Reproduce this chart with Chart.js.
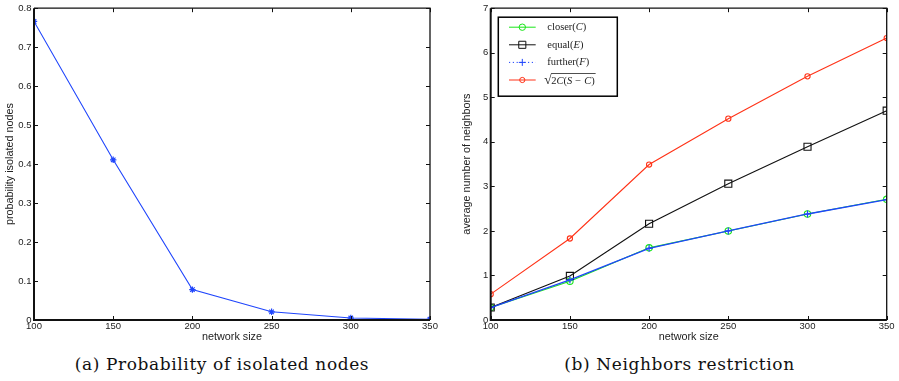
<!DOCTYPE html>
<html>
<head>
<meta charset="utf-8">
<script src="https://cdn.jsdelivr.net/npm/chart.js@4"></script>
<style>
  html, body { margin:0; padding:0; background:#fff; width:899px; height:381px; overflow:hidden; }
  canvas { position:absolute; top:0; }
  #c1 { left:0; }
  #c2 { left:450px; }
  .cap { position:absolute; top:354px; font-family:'DejaVu Serif', 'Liberation Serif', serif; font-size:17px; letter-spacing:0.6px; color:#111; text-align:center; white-space:nowrap; }
</style>
</head>
<body>
<canvas id="c1" width="450" height="350" style="width:450px;height:350px"></canvas>
<canvas id="c2" width="449" height="350" style="width:449px;height:350px"></canvas>
<div class="cap" style="left:0;width:444px;">(a) Probability of isolated nodes</div>
<div class="cap" style="left:450px;width:459px;">(b) Neighbors restriction</div>
<script>
// ---- data ----
const networkSizes = [100, 150, 200, 250, 300, 350];
const isolatedProb = [0.766, 0.411, 0.078, 0.021, 0.005, 0.002];
const closerC  = [0.28, 0.87, 1.62, 2.00, 2.38, 2.71];
const equalE   = [0.28, 0.99, 2.16, 3.06, 3.89, 4.70];
const furtherF = [0.28, 0.90, 1.61, 2.00, 2.38, 2.70];
const sqrtBound = [0.58, 1.83, 3.49, 4.52, 5.47, 6.33];
const seriesLabels = ['closer(C)', 'equal(E)', 'further(F)', '√2C(S − C)'];
const xTitle = 'network size';
const yTitleA = 'probability isolated nodes';
const yTitleB = 'average number of neighbors';

const toXY = (ys) => ys.map((y, i) => ({x: networkSizes[i], y}));

// MATLAB-like frame with inward ticks
const framePlugin = {
  id: 'frame',
  afterDraw(chart) {
    const ctx = chart.ctx, ca = chart.chartArea;
    const xs = chart.scales.x, ys = chart.scales.y;
    ctx.save();
    ctx.strokeStyle = '#111';
    ctx.lineWidth = 1;
    const tl = 4;
    xs.ticks.forEach(t => {
      const px = Math.round(xs.getPixelForValue(t.value)) + 0.5;
      ctx.beginPath();
      ctx.moveTo(px, ca.bottom); ctx.lineTo(px, ca.bottom - tl);
      ctx.moveTo(px, ca.top); ctx.lineTo(px, ca.top + tl);
      ctx.stroke();
    });
    ys.ticks.forEach(t => {
      const py = Math.round(ys.getPixelForValue(t.value)) + 0.5;
      ctx.beginPath();
      ctx.moveTo(ca.left, py); ctx.lineTo(ca.left + tl, py);
      ctx.moveTo(ca.right, py); ctx.lineTo(ca.right - tl, py);
      ctx.stroke();
    });
    ctx.lineWidth = 1.3;
    ctx.beginPath();
    ctx.moveTo(ca.left, ca.top); ctx.lineTo(ca.right, ca.top); ctx.lineTo(ca.right, ca.bottom);
    ctx.stroke();
    ctx.lineWidth = 2;
    ctx.beginPath();
    ctx.moveTo(ca.left, ca.top); ctx.lineTo(ca.left, ca.bottom); ctx.lineTo(ca.right, ca.bottom);
    ctx.stroke();
    ctx.restore();
  }
};

// MATLAB-like legend inside the axes
const legendPlugin = {
  id: 'mlegend',
  afterDraw(chart) {
    if (!chart.options.plugins.mlegend || !chart.options.plugins.mlegend.show) return;
    const ctx = chart.ctx, ca = chart.chartArea;
    const x0 = ca.left + 7.6, y0 = ca.top + 9, w = 119, h = 79;
    ctx.save();
    ctx.fillStyle = '#fff';
    ctx.fillRect(x0, y0, w, h);
    ctx.strokeStyle = '#000';
    ctx.lineWidth = 1.5;
    ctx.strokeRect(x0, y0, w, h);
    chart.data.datasets.forEach((ds, i) => {
      const cy = y0 + 10 + i * 17.6;
      ctx.strokeStyle = ds.borderColor;
      ctx.lineWidth = 1;
      ctx.setLineDash(ds.legendDash || []);
      ctx.beginPath();
      ctx.moveTo(x0 + 10.7, cy); ctx.lineTo(x0 + 37.4, cy);
      ctx.stroke();
      ctx.setLineDash([]);
      ctx.fillStyle = 'rgba(0,0,0,0)';
      ctx.strokeStyle = ds.pointBorderColor || ds.borderColor;
      ctx.lineWidth = 1;
      Chart.helpers.drawPoint(ctx, {pointStyle: ds.pointStyle, rotation: 0, radius: ds.pointRadius, borderWidth: 1}, x0 + 24, cy);
      // text
      let label = ds.label;
      let tx = x0 + 49;
      ctx.fillStyle = '#222';
      ctx.textBaseline = 'middle';
      const fs = 10.5;
      if (label.startsWith('√')) {
        tx = x0 + 46;
        ctx.font = `${fs + 3}px "Liberation Serif"`;
        ctx.fillText('√', tx, cy + 0.5);
        tx += ctx.measureText('√').width - 0.5;
        label = label.slice(1);
        const startX = tx;
        tx = drawMixed(ctx, label, tx, cy + 1, fs);
        ctx.strokeStyle = '#222';
        ctx.lineWidth = 0.8;
        ctx.beginPath();
        ctx.moveTo(startX, cy - 6.5); ctx.lineTo(tx + 1, cy - 6.5);
        ctx.stroke();
      } else {
        drawMixed(ctx, label, tx, cy, fs);
      }
    });
    ctx.restore();
  }
};
function drawMixed(ctx, text, x, y, fs) {
  for (const ch of text) {
    if (ch === ' ') continue;
    const it = /[A-Z]/.test(ch);
    ctx.font = `${it ? 'italic ' : ''}${fs}px "Liberation Serif"`;
    let c = ch;
    if (ch === '−') { ctx.font = `${fs}px "Liberation Serif"`; x += 3; ctx.fillText(c, x, y); x += ctx.measureText(c).width + 3; continue; }
    ctx.fillText(c, x, y);
    x += ctx.measureText(c).width;
  }
  return x;
}

const tickFont = {family: 'Liberation Sans', size: 9.5};
const titleFont = {family: 'Liberation Sans', size: 10.8};

function makeScales(yMax, yStep, yTitle, yWidth, yTitlePad) {
  return {
    x: {
      type: 'linear', min: 100, max: 350,
      grid: {display: false, drawTicks: false},
      border: {display: false},
      ticks: {stepSize: 50, font: tickFont, color: '#222', padding: 1, autoSkip: false, maxRotation: 0},
      title: {display: true, text: xTitle, font: titleFont, color: '#222', padding: {top: 0, bottom: 6}},
      afterFit: (s) => { s.height = 30; }
    },
    y: {
      type: 'linear', min: 0, max: yMax,
      grid: {display: false, drawTicks: false},
      border: {display: false},
      ticks: {stepSize: yStep, font: tickFont, color: '#222', padding: 2.5, autoSkip: false},
      title: {display: true, text: yTitle, font: titleFont, color: '#222', padding: {top: yTitlePad, bottom: 0}},
      afterFit: (s) => { s.width = yWidth; }
    }
  };
}

new Chart(document.getElementById('c1'), {
  type: 'line',
  data: {
    datasets: [{
      label: 'isolated',
      data: toXY(isolatedProb),
      borderColor: '#1f45fc', borderWidth: 1.1,
      pointStyle: 'star', pointRadius: 3.2, pointBorderColor: '#1f45fc', pointBackgroundColor: '#1f45fc', pointBorderWidth: 1.2,
      tension: 0
    }]
  },
  options: {
    responsive: false, animation: false, devicePixelRatio: 1,
    layout: {padding: {left: 0, top: 6, right: 20, bottom: 0}},
    plugins: {legend: {display: false}, tooltip: {enabled: false}},
    scales: makeScales(0.8, 0.1, yTitleA, 34, 3.5)
  },
  plugins: [framePlugin]
});

new Chart(document.getElementById('c2'), {
  type: 'line',
  data: {
    datasets: [
      {label: seriesLabels[0], data: toXY(closerC), borderColor: '#19e619', borderWidth: 1.1,
       pointStyle: 'circle', pointRadius: 3.2, pointBorderColor: '#19e619', pointBackgroundColor: 'rgba(0,0,0,0)', pointBorderWidth: 1.1, order: 4},
      {label: seriesLabels[1], data: toXY(equalE), borderColor: '#111', borderWidth: 1.1,
       pointStyle: 'rect', pointRadius: 5, pointBorderColor: '#111', pointBackgroundColor: 'rgba(0,0,0,0)', pointBorderWidth: 1.1, order: 3},
      {label: seriesLabels[2], data: toXY(furtherF), borderColor: '#1f45fc', borderWidth: 1.3, legendDash: [1.2, 2.6],
       pointStyle: 'cross', pointRadius: 3.5, pointBorderColor: '#1f45fc', pointBackgroundColor: 'rgba(0,0,0,0)', pointBorderWidth: 1.2, order: 2},
      {label: seriesLabels[3], data: toXY(sqrtBound), borderColor: '#ff3318', borderWidth: 1.1,
       pointStyle: 'circle', pointRadius: 2.6, pointBorderColor: '#ff3318', pointBackgroundColor: 'rgba(0,0,0,0)', pointBorderWidth: 1.1, order: 1}
    ]
  },
  options: {
    responsive: false, animation: false, devicePixelRatio: 1,
    layout: {padding: {left: 0, top: 5.3, right: 12.3, bottom: 0}},
    plugins: {legend: {display: false}, tooltip: {enabled: false}, mlegend: {show: true}},
    scales: makeScales(7, 1, yTitleB, 40.7, 10.5)
  },
  plugins: [framePlugin, legendPlugin]
});
</script>
</body>
</html>
